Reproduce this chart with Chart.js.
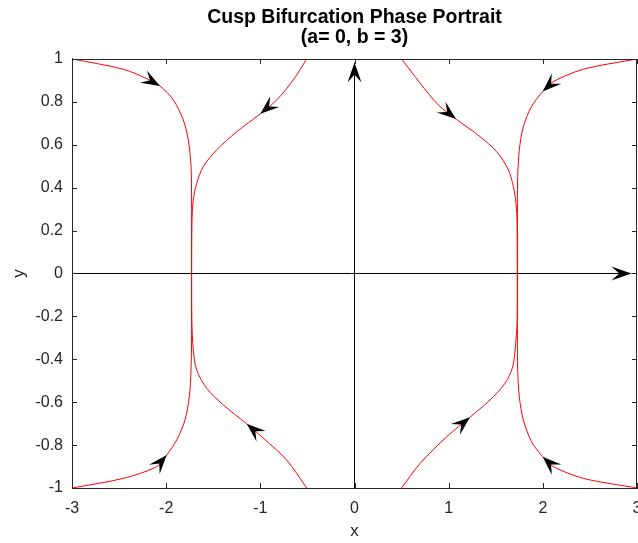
<!DOCTYPE html>
<html>
<head>
<meta charset="utf-8">
<script src="https://cdn.jsdelivr.net/npm/chart.js@4/dist/chart.umd.min.js"></script>
<style>
  html, body { margin: 0; padding: 0; background: #fff; }
  #wrap { width: 638px; height: 543px; }
</style>
</head>
<body>
<div id="wrap"><canvas id="portrait"></canvas></div>
<script>
// tick labels
var xTicks = [-3, -2, -1, 0, 1, 2, 3];
var yTicks = [-1, -0.8, -0.6, -0.4, -0.2, 0, 0.2, 0.4, 0.6, 0.8, 1];

// trajectories (x, y pairs)
var tlOuterX = [-3, -2.455, -2.19, -2.066, -1.924, -1.818, -1.765, -1.736, -1.73, -1.73];
var tlOuterY = [1, 0.952, 0.905, 0.874, 0.809, 0.716, 0.622, 0.498, 0.343, 0];
var tlInnerX = [-0.508, -0.65, -0.826, -1.0, -1.25, -1.463, -1.606, -1.676, -1.712, -1.727, -1.73];
var tlInnerY = [1, 0.902, 0.809, 0.744, 0.661, 0.576, 0.498, 0.42, 0.343, 0.235, 0];
var trInnerX = [0.5, 0.697, 0.89, 1.078, 1.333, 1.51, 1.634, 1.687, 1.715, 1.727, 1.73];
var trInnerY = [1, 0.887, 0.786, 0.72, 0.638, 0.568, 0.483, 0.405, 0.327, 0.233, 0];
var trOuterX = [3, 2.43, 2.111, 1.998, 1.88, 1.793, 1.75, 1.733, 1.73, 1.73];
var trOuterY = [1, 0.952, 0.894, 0.848, 0.778, 0.684, 0.576, 0.451, 0.33, 0];
var blOuterX = [-3, -2.455, -2.1, -1.994, -1.888, -1.8, -1.754, -1.736, -1.73, -1.73];
var blOuterY = [-1, -0.955, -0.9, -0.846, -0.776, -0.683, -0.574, -0.45, -0.29, 0];
var blInnerX = [-0.508, -0.72, -0.968, -1.145, -1.393, -1.57, -1.676, -1.712, -1.728, -1.73];
var blInnerY = [-1, -0.87, -0.768, -0.701, -0.613, -0.535, -0.45, -0.357, -0.217, 0];
var brInnerX = [0.5, 0.697, 0.98, 1.226, 1.439, 1.598, 1.68, 1.711, 1.728, 1.73];
var brInnerY = [-1, -0.885, -0.761, -0.67, -0.59, -0.512, -0.435, -0.326, -0.22, 0];
var brOuterX = [3, 2.43, 2.111, 1.998, 1.88, 1.793, 1.75, 1.733, 1.73, 1.73];
var brOuterY = [-1, -0.955, -0.9, -0.854, -0.784, -0.683, -0.574, -0.45, -0.29, 0];

// axis lines through the origin
var hAxisX = [-3, 2.94];
var hAxisY = [0, 0];
var vAxisX = [0, 0];
var vAxisY = [-1, 0.983];

// flow arrows on the trajectories: tip and direction
var arrowX  = [-2.066, -1.0, 1.078, 1.998, -1.994, -1.145, 1.226, 1.998];
var arrowY  = [0.874, 0.744, 0.72, 0.848, -0.846, -0.701, -0.67, -0.854];
var arrowDX = [0.124, -0.174, 0.188, -0.113, 0.106, -0.177, 0.246, -0.113];
var arrowDY = [-0.031, -0.065, -0.066, -0.046, 0.054, 0.067, 0.091, 0.046];

// arrow heads at the ends of the axis lines
var axisArrowX  = [2.94, 0];
var axisArrowY  = [0, 0.983];
var axisArrowDX = [1, 0];
var axisArrowDY = [0, 1];

var FONT = '"Liberation Sans", Arial, Helvetica, sans-serif';
var INK = '#262626';

function pts(xs, ys) {
  var out = [];
  for (var i = 0; i < xs.length; i++) out.push({x: xs[i], y: ys[i]});
  return out;
}

function curve(xs, ys) {
  return {
    data: pts(xs, ys),
    showLine: true,
    borderColor: '#ff0000',
    borderWidth: 1,
    pointRadius: 0,
    tension: 0.3
  };
}

function axisLine(xs, ys) {
  return {
    data: pts(xs, ys),
    showLine: true,
    borderColor: '#000',
    borderWidth: 1,
    pointRadius: 0,
    tension: 0
  };
}

function drawHead(ctx, px, py, ang, len, wid) {
  ctx.save();
  ctx.translate(px, py);
  ctx.rotate(ang);
  ctx.beginPath();
  ctx.moveTo(0, 0);
  ctx.lineTo(-len, -wid / 2);
  ctx.lineTo(-len * 0.6, 0);
  ctx.lineTo(-len, wid / 2);
  ctx.closePath();
  ctx.fillStyle = '#000';
  ctx.fill();
  ctx.restore();
}

var arrowPlugin = {
  id: 'arrows',
  afterDatasetsDraw: function(chart) {
    var ctx = chart.ctx, xs = chart.scales.x, ys = chart.scales.y;
    function heads(ax, ay, adx, ady, len, wid) {
      for (var i = 0; i < ax.length; i++) {
        var px = xs.getPixelForValue(ax[i]);
        var py = ys.getPixelForValue(ay[i]);
        var qx = xs.getPixelForValue(ax[i] + adx[i] * 0.1) - px;
        var qy = ys.getPixelForValue(ay[i] + ady[i] * 0.1) - py;
        drawHead(ctx, px, py, Math.atan2(qy, qx), len, wid);
      }
    }
    heads(arrowX, arrowY, arrowDX, arrowDY, 19, 14);
    heads(axisArrowX, axisArrowY, axisArrowDX, axisArrowDY, 20, 14);
  }
};

// matlab style box with inward ticks on all four sides
var boxPlugin = {
  id: 'box',
  afterDraw: function(chart) {
    var ctx = chart.ctx, a = chart.chartArea;
    var xs = chart.scales.x, ys = chart.scales.y;
    var t = 5;
    ctx.save();
    ctx.strokeStyle = INK;
    ctx.lineWidth = 1;
    ctx.beginPath();
    xTicks.forEach(function(v) {
      var p = Math.round(xs.getPixelForValue(v)) + 0.5;
      ctx.moveTo(p, a.bottom); ctx.lineTo(p, a.bottom - t);
      ctx.moveTo(p, a.top); ctx.lineTo(p, a.top + t);
    });
    yTicks.forEach(function(v) {
      var p = Math.round(ys.getPixelForValue(v)) + 0.5;
      ctx.moveTo(a.left, p); ctx.lineTo(a.left + t, p);
      ctx.moveTo(a.right, p); ctx.lineTo(a.right - t, p);
    });
    ctx.stroke();
    ctx.strokeRect(Math.round(a.left) + 0.5, Math.round(a.top) + 0.5,
      Math.round(a.right - a.left) - 1, Math.round(a.bottom - a.top));
    ctx.restore();
  }
};

new Chart(document.getElementById('portrait'), {
  type: 'scatter',
  data: {
    datasets: [
      curve(tlOuterX, tlOuterY), curve(tlInnerX, tlInnerY),
      curve(trInnerX, trInnerY), curve(trOuterX, trOuterY),
      curve(blOuterX, blOuterY), curve(blInnerX, blInnerY),
      curve(brInnerX, brInnerY), curve(brOuterX, brOuterY),
      axisLine(hAxisX, hAxisY), axisLine(vAxisX, vAxisY)
    ]
  },
  options: {
    responsive: true,
    maintainAspectRatio: false,
    animation: false,
    layout: { padding: { left: 0, right: 1, top: 0, bottom: 0 } },
    plugins: {
      legend: { display: false },
      tooltip: { enabled: false },
      title: {
        display: true,
        fullSize: false,
        text: ['Cusp Bifurcation Phase Portrait', '(a= 0, b = 3)'],
        color: '#000',
        font: { family: FONT, size: 19.5, weight: 'bold', lineHeight: 1.05 },
        padding: { top: 7, bottom: 11 }
      }
    },
    scales: {
      x: {
        type: 'linear',
        min: -3, max: 3,
        afterBuildTicks: function(s) { s.ticks = xTicks.map(function(v) { return {value: v}; }); },
        afterFit: function(s) { s.height = 55; s.paddingLeft = 0; s.paddingRight = 0; },
        ticks: {
          color: INK, font: { family: FONT, size: 16 }, padding: 11, maxRotation: 0,
          callback: function(v) { return String(v); }
        },
        grid: { display: true, drawOnChartArea: false, drawTicks: false },
        border: { display: true, color: INK },
        title: { display: true, text: 'x', color: INK, font: { family: FONT, size: 17 }, padding: { top: 0, bottom: 1 } }
      },
      y: {
        type: 'linear',
        min: -1, max: 1,
        afterBuildTicks: function(s) { s.ticks = yTicks.map(function(v) { return {value: v}; }); },
        afterFit: function(s) { s.width = 72; },
        ticks: {
          color: INK, font: { family: FONT, size: 16 }, padding: 9,
          callback: function(v) { return String(v); }
        },
        grid: { display: true, drawOnChartArea: false, drawTicks: false },
        border: { display: true, color: INK },
        title: { display: true, text: 'y', color: INK, font: { family: FONT, size: 17 }, padding: { top: 9, bottom: 0 } }
      }
    }
  },
  plugins: [arrowPlugin, boxPlugin]
});
</script>
</body>
</html>
